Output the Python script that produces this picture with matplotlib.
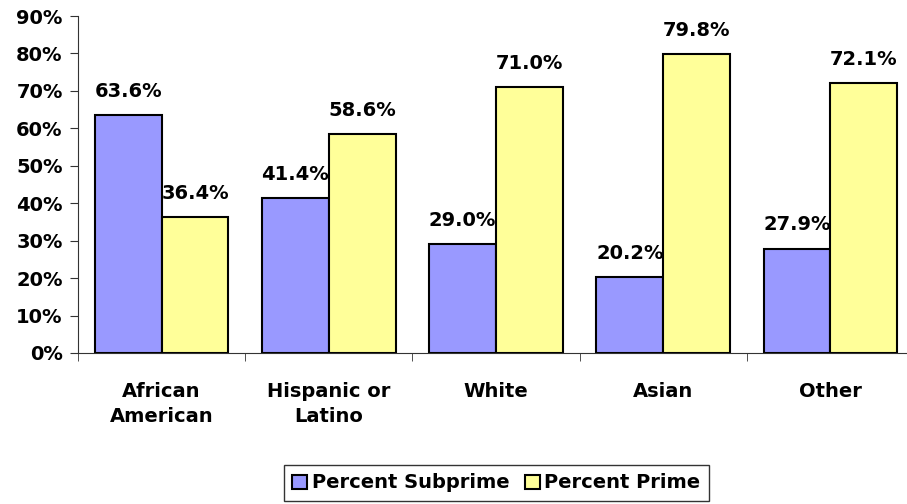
import matplotlib.pyplot as plt
import numpy as np

plt.rcParams['font.family'] = ['DejaVu Sans']
plt.rcParams['font.weight'] = 'bold'

groups = ["African\nAmerican", "Hispanic or\nLatino", "White", "Asian", "Other"]
subprime = [63.6, 41.4, 29.0, 20.2, 27.9]
prime = [36.4, 58.6, 71.0, 79.8, 72.1]
yticks = [0, 10, 20, 30, 40, 50, 60, 70, 80, 90]

fs = 14

fig = plt.figure(figsize=(9.07, 5.04), dpi=100)
ax = fig.add_axes([78 / 907, 151 / 504, 836 / 907, 337 / 504])

x = np.arange(len(groups))
w = 0.4
b1 = ax.bar(x - w / 2, subprime, w, color='#9999FF', edgecolor='black',
            linewidth=1.5, label='Percent Subprime')
b2 = ax.bar(x + w / 2, prime, w, color='#FFFF99', edgecolor='black',
            linewidth=1.5, label='Percent Prime')

for bars, vals in [(b1, subprime), (b2, prime)]:
    for r, v in zip(bars, vals):
        ax.annotate("%.1f%%" % v, (r.get_x() + r.get_width() / 2, v),
                    xytext=(0, 13), textcoords='offset points',
                    ha='center', va='baseline', fontsize=fs, fontweight='bold')

ax.set_xlim(-0.5, 4.5)
ax.set_ylim(0, 90)
ax.set_yticks(yticks)
ax.set_yticklabels(["%d%%" % t for t in yticks], fontsize=fs, fontweight='bold')
ax.set_xticks(x)
ax.set_xticklabels(groups, fontsize=fs, fontweight='bold', linespacing=1.4)
ax.set_xticks(np.arange(-0.5, 5, 1), minor=True)
ax.tick_params(axis='x', which='major', length=0, pad=21)
ax.tick_params(axis='x', which='minor', length=6, direction='out', color='#333333')
ax.tick_params(axis='y', length=6, direction='out', color='#333333', pad=5)

ax.spines['top'].set_visible(False)
ax.spines['right'].set_visible(False)
ax.spines['left'].set_color('#333333')
ax.spines['bottom'].set_color('#333333')

leg = fig.legend(loc='center', bbox_to_anchor=(496.5 / 907, 21 / 504), ncol=2,
                 frameon=True, fancybox=False, edgecolor='black',
                 handlelength=0.75, handleheight=0.75, handletextpad=0.25,
                 columnspacing=0.8, borderpad=0.45,
                 prop={'weight': 'bold', 'size': fs})
leg.get_frame().set_linewidth(1.0)

fig.savefig('out.png', dpi=100)
